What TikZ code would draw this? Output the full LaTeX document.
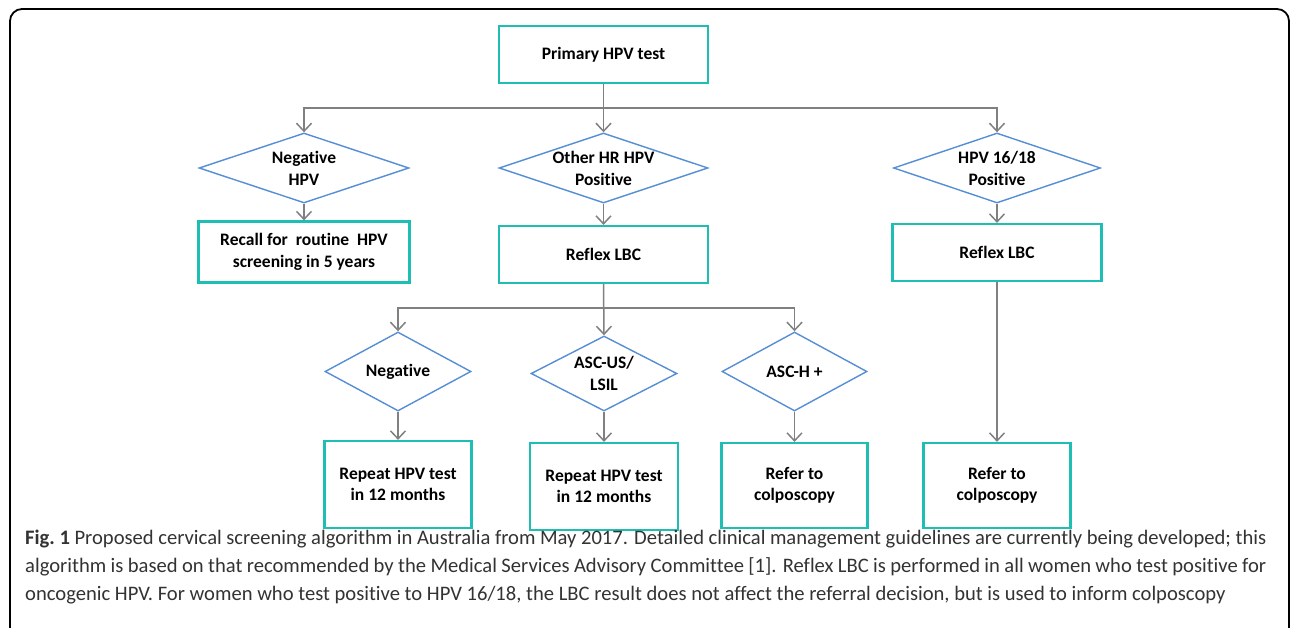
\documentclass[tikz,border=0pt]{standalone}
\usepackage{fontspec}
\setmainfont[Ligatures=NoCommon]{Carlito}
\usetikzlibrary{positioning,shapes.geometric,arrows.meta}
\definecolor{boxteal}{RGB}{30,190,180}
\definecolor{diamblue}{RGB}{85,142,213}
\definecolor{linegray}{RGB}{128,128,128}
\tikzstyle{carre}=[rectangle,draw=boxteal,line width=2.2pt,inner sep=0pt,text centered,align=center,font=\bfseries\fontsize{17.5}{21.5}\selectfont]
\tikzstyle{losange}=[diamond,draw=diamblue,line width=1.4pt,inner sep=0pt,shape aspect=3,text centered,align=center,font=\bfseries\fontsize{17.5}{22}\selectfont]
\tikzstyle{fleche}=[draw=linegray,line width=1.5pt,-{Straight Barb[length=8pt,width=15pt,line width=1.5pt]}]
\tikzstyle{legende}=[anchor=north west,inner sep=0pt,text width=1241pt,align=justify,text=black!80,font=\fontsize{20.6}{28}\selectfont]

\begin{document}
\begin{tikzpicture}[x=1pt,y=-1pt]
\useasboundingbox (0,0) rectangle (1290,628);
\draw[line width=1.8pt,rounded corners=12pt] (10,9) rectangle (1289,660);

\node[carre,minimum width=209pt,minimum height=57pt] (P00) at (603.5,54.5) {Primary HPV test};
\node[losange,minimum width=210pt,minimum height=70pt] (D10) at (304,168) {Negative\\HPV};
\node[losange,minimum width=209pt,minimum height=70pt] (D11) at (603.5,168) {Other HR HPV\\Positive};
\node[losange,minimum width=207pt,minimum height=70pt] (D12) at (997,168) {HPV 16/18\\Positive};
\node[carre,minimum width=211pt,minimum height=61pt] (B20) at (304,252) {Recall for\ \ routine\ \ HPV\\screening in 5 years};
\node[carre,minimum width=209pt,minimum height=57pt] (B21) at (603.5,254.5) {Reflex LBC};
\node[carre,minimum width=209pt,minimum height=57pt] (B22) at (997,252.5) {Reflex LBC};
\node[losange,shape aspect=1.85,minimum width=146pt,minimum height=79pt] (D30) at (398,371.5) {Negative};
\node[losange,shape aspect=1.85,minimum width=146pt,minimum height=75pt] (D31) at (604,373.5) {ASC-US/\\LSIL};
\node[losange,shape aspect=1.85,minimum width=145pt,minimum height=79pt] (D32) at (794.5,371.5) {ASC-H +};
\node[carre,minimum width=147pt,minimum height=87pt] (B40) at (398,484.5) {Repeat HPV test\\in 12 months};
\node[carre,minimum width=148pt,minimum height=87pt] (B41) at (604,486.5) {Repeat HPV test\\in 12 months};
\node[carre,minimum width=146pt,minimum height=85pt] (B42) at (794.5,485.5) {Refer to\\colposcopy};
\node[carre,minimum width=147pt,minimum height=85pt] (B43) at (997,485.5) {Refer to\\colposcopy};

\coordinate (H1) at (603.5,108);
\coordinate (H2) at (604,308);

\draw[fleche] (P00.south) to (D11.north);
\draw[fleche] (H1) -| (D10.north);
\draw[fleche] (H1) -| (D12.north);
\draw[fleche] (D10.south) to (B20.north);
\draw[fleche] (D11.south) to (B21.north);
\draw[fleche] (D12.south) to (B22.north);
\draw[fleche] (B21.south) to (D31.north);
\draw[fleche] (H2) -| (D30.north);
\draw[fleche] (H2) -| (D32.north);
\draw[fleche] (D30.south) to (B40.north);
\draw[fleche] (D31.south) to (B41.north);
\draw[fleche] (D32.south) to (B42.north);
\draw[fleche] (B22.south) to (B43.north);

\node[legende] (L00) at (25,530) {\textbf{Fig.~1} Proposed cervical screening algorithm in Australia from May 2017. Detailed clinical management guidelines are currently being developed; this\linebreak algorithm is based on that recommended by the Medical Services Advisory Committee [1]. Reflex LBC is performed in all women who test positive for\linebreak oncogenic HPV. For women who test positive to HPV 16/18, the LBC result does not affect the referral decision, but is used to inform colposcopy};

\end{tikzpicture}
\end{document}
